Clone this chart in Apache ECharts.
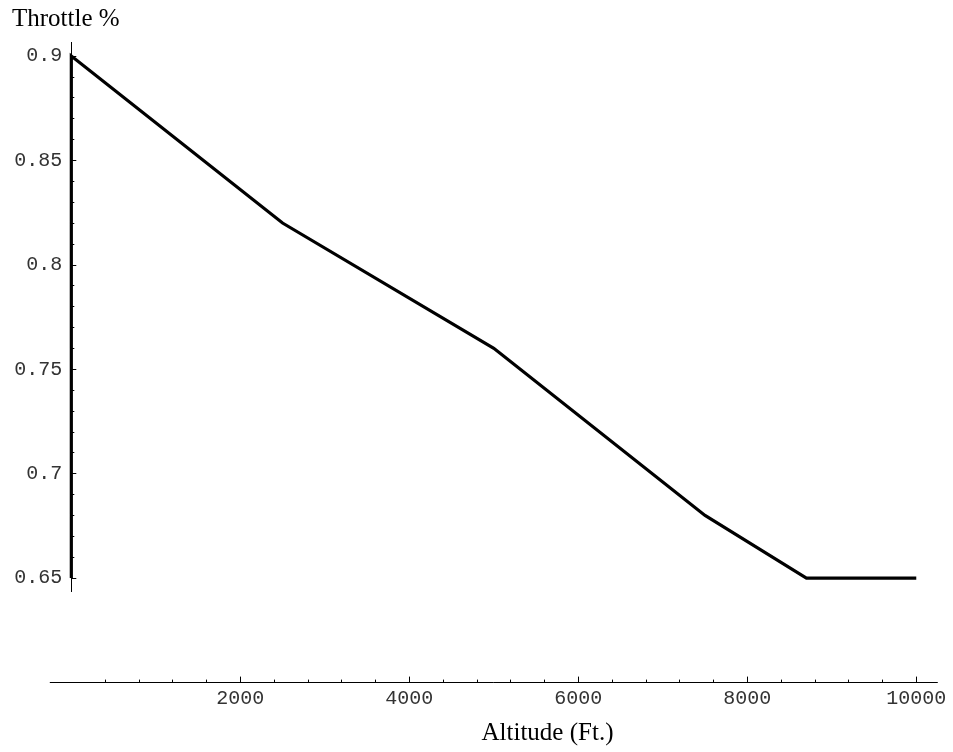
<!DOCTYPE html>
<html>
<head>
<meta charset="utf-8">
<script src="https://cdn.jsdelivr.net/npm/echarts@6/dist/echarts.min.js"></script>
<style>
  html, body { margin: 0; padding: 0; background: #fff; }
  #chart { width: 953px; height: 752px; }
</style>
</head>
<body>
<div id="chart"></div>
<script>
// Throttle setting against altitude
const altitude = [0, 0, 2500, 5000, 7500, 8700, 10000];
const throttle = [0.65, 0.9, 0.82, 0.76, 0.68, 0.65, 0.65];

// Axis ticks
const xMajorTicks = [2000, 4000, 6000, 8000, 10000];
const xMinorTicks = [400, 800, 1200, 1600, 2400, 2800, 3200, 3600, 4400, 4800, 5200, 5600,
                     6400, 6800, 7200, 7600, 8400, 8800, 9200, 9600];
const yMajorTicks = [0.65, 0.7, 0.75, 0.8, 0.85, 0.9];
const yMinorTicks = [0.66, 0.67, 0.68, 0.69, 0.71, 0.72, 0.73, 0.74, 0.76, 0.77, 0.78, 0.79,
                     0.81, 0.82, 0.83, 0.84, 0.86, 0.87, 0.88, 0.89];

const xLabel = 'Altitude (Ft.)';
const yLabel = 'Throttle %';

const tickFont = { fontFamily: 'Liberation Mono', fontSize: 20, color: '#333' };

const chart = echarts.init(document.getElementById('chart'), null, { renderer: 'canvas' });

const xRange = { min: -250, max: 10250 };
const yRange = { min: 0.6435, max: 0.9065 };

chart.setOption({
  animation: false,
  backgroundColor: '#fff',
  grid: { left: 50.2, top: 42.4, width: 887.2, height: 549.2, containLabel: false },
  xAxis: [
    {
      type: 'value', ...xRange, position: 'bottom', offset: 91,
      axisLine: { show: true, onZero: false, lineStyle: { color: '#000', width: 1 } },
      axisTick: { show: true, inside: true, length: 6, customValues: xMajorTicks, lineStyle: { color: '#000' } },
      axisLabel: { show: true, customValues: xMajorTicks, margin: 6, formatter: v => String(v), ...tickFont },
      splitLine: { show: false }
    },
    {
      type: 'value', ...xRange, position: 'bottom', offset: 91,
      axisLine: { show: false, onZero: false },
      axisTick: { show: true, inside: true, length: 3, customValues: xMinorTicks, lineStyle: { color: '#000' } },
      axisLabel: { show: false },
      splitLine: { show: false }
    }
  ],
  yAxis: [
    {
      type: 'value', ...yRange, position: 'left', offset: -21.1,
      axisLine: { show: true, onZero: false, lineStyle: { color: '#000', width: 1 } },
      axisTick: { show: true, inside: true, length: 5, customValues: yMajorTicks, lineStyle: { color: '#000' } },
      axisLabel: { show: true, customValues: yMajorTicks, margin: 9, formatter: v => String(v), ...tickFont },
      splitLine: { show: false }
    },
    {
      type: 'value', ...yRange, position: 'left', offset: -21.1,
      axisLine: { show: false, onZero: false },
      axisTick: { show: true, inside: true, length: 3, customValues: yMinorTicks, lineStyle: { color: '#000' } },
      axisLabel: { show: false },
      splitLine: { show: false }
    }
  ],
  graphic: [
    {
      type: 'text', left: 12, top: 7,
      style: { text: yLabel, fontFamily: 'Liberation Serif', fontSize: 25, fill: '#000' }
    },
    {
      type: 'text', x: 547.5, y: 733,
      style: { text: xLabel, fontFamily: 'Liberation Serif', fontSize: 25, fill: '#000',
               align: 'center', verticalAlign: 'middle' }
    }
  ],
  series: [
    {
      type: 'line',
      xAxisIndex: 0, yAxisIndex: 0,
      data: altitude.map((a, i) => [a, throttle[i]]),
      symbol: 'none',
      clip: false,
      lineStyle: { color: '#000', width: 3.2, join: 'miter' }
    }
  ]
});
</script>
</body>
</html>
